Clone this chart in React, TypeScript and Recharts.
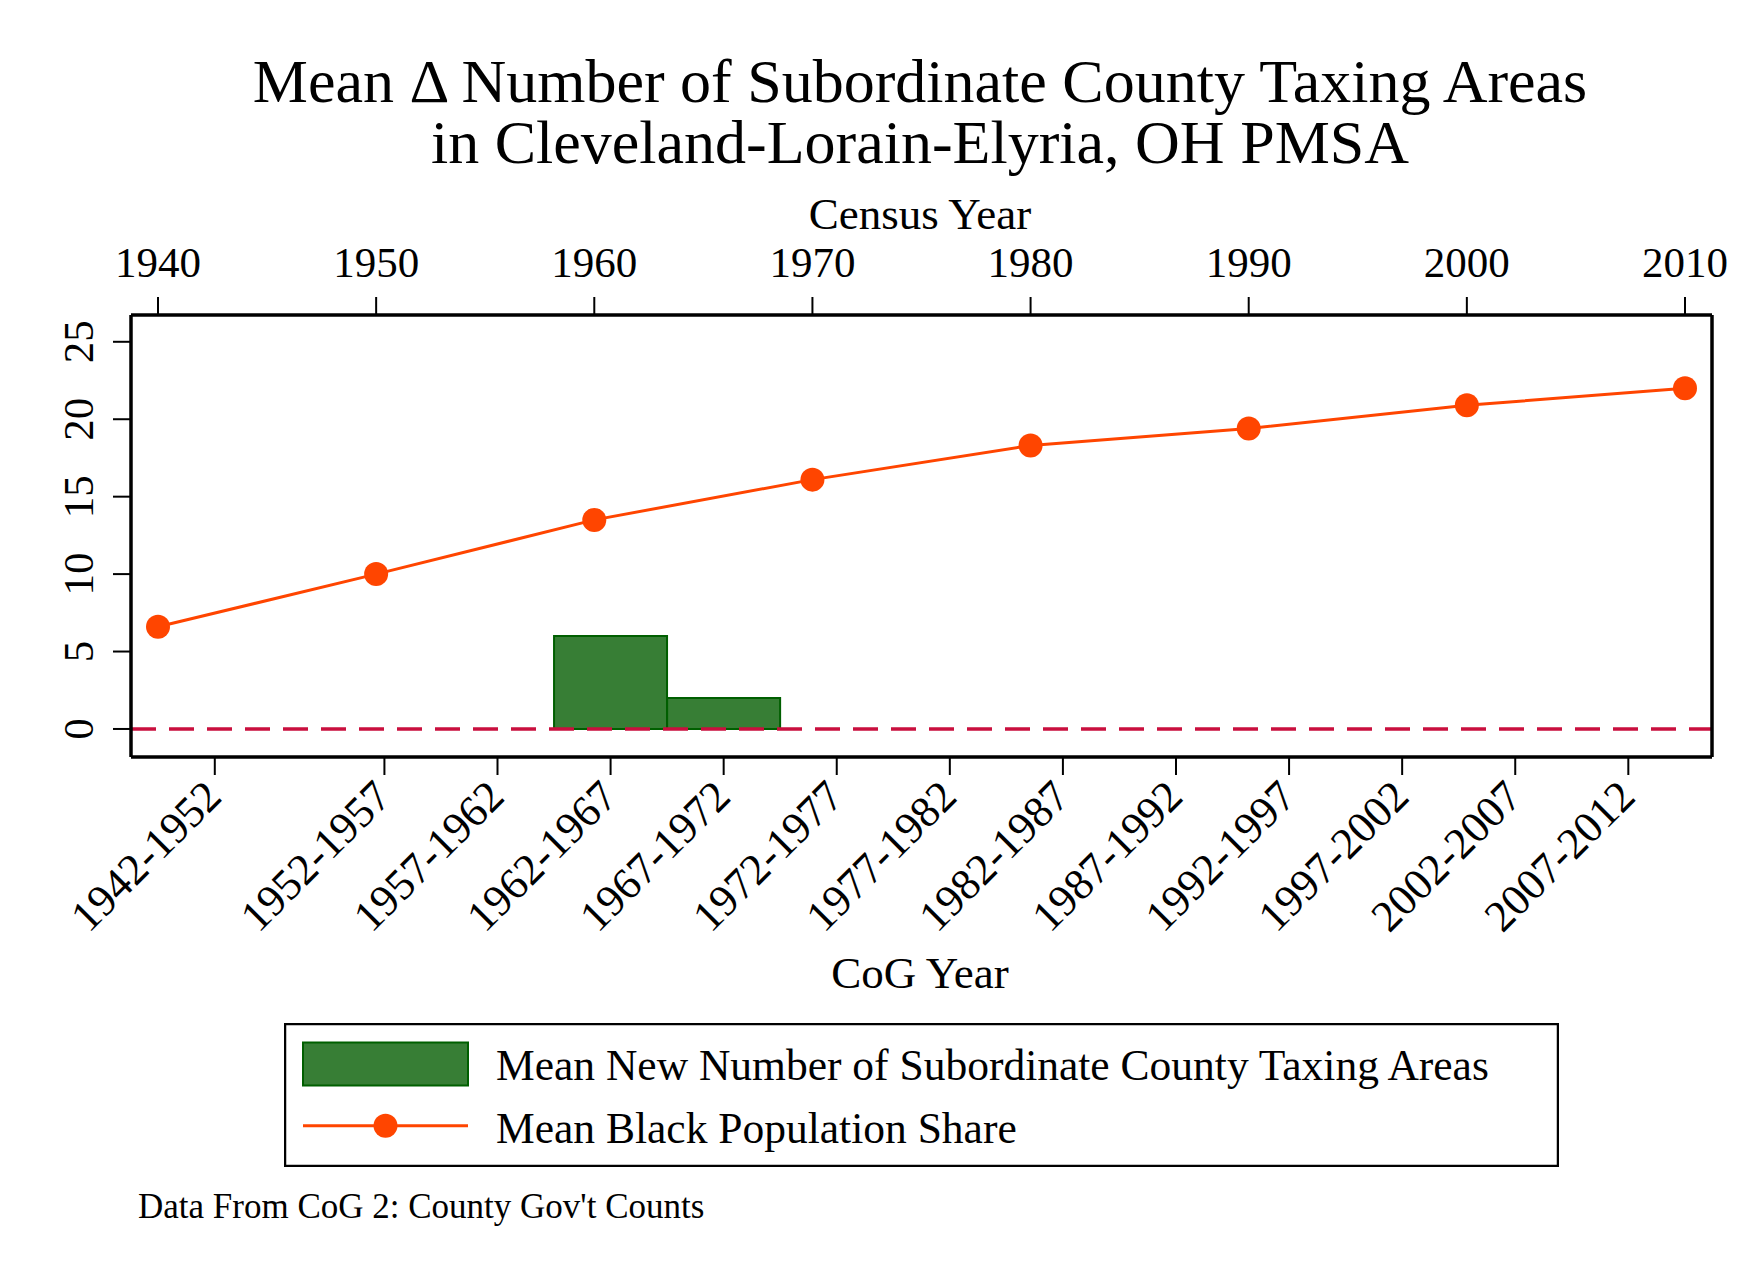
import React from 'react';
import { ComposedChart, Bar, Line, XAxis, YAxis, ReferenceLine, Legend } from 'recharts';

// census years (top axis) and the black population share line
const censusYears = [1940, 1950, 1960, 1970, 1980, 1990, 2000, 2010];
const blackShare = [6.6, 10.0, 13.5, 16.1, 18.3, 19.4, 20.9, 22.0];

// CoG periods (bottom axis) and mean new taxing areas
const cogPeriods = [
  '1942-1952', '1952-1957', '1957-1962', '1962-1967', '1967-1972', '1972-1977', '1977-1982',
  '1982-1987', '1987-1992', '1992-1997', '1997-2002', '2002-2007', '2007-2012',
];
const newTaxingAreas = [0, 0, 0, 6, 2, 0, 0, 0, 0, 0, 0, 0, 0];

const yTicks = [0, 5, 10, 15, 20, 25];

const FONT = '"Liberation Serif", "Times New Roman", serif';
const GREEN = '#377e35';
const GREEN_EDGE = '#005f00';
const ORANGE = '#ff4500';
const CRIMSON = '#c90f3e';

const cogRows = cogPeriods.map((p, i) => {
  const [a, b] = p.split('-').map(Number);
  return { period: p, mid: (a + b) / 2, areas: newTaxingAreas[i] };
});
const cogMids = cogRows.map((r) => r.mid);
const censusRows = censusYears.map((year, i) => ({ year, share: blackShare[i] }));

const TopTick = ({ x, y, payload }: any) => (
  <text x={x} y={y} textAnchor="middle" fontFamily={FONT} fontSize={43} fill="#000">
    {payload.value}
  </text>
);

const BottomTick = ({ x, y, payload }: any) => {
  const row = cogRows.find((r) => Math.abs(r.mid - payload.value) < 0.01);
  const px = x - 2;
  return (
    <text
      x={px}
      y={y}
      dy="0.35em"
      textAnchor="end"
      transform={`rotate(-45 ${px} ${y})`}
      fontFamily={FONT}
      fontSize={44}
      fill="#000"
    >
      {row ? row.period : ''}
    </text>
  );
};

const LeftTick = ({ x, y, payload }: any) => (
  <text
    x={x}
    y={y}
    textAnchor="middle"
    transform={`rotate(-90 ${x} ${y})`}
    fontFamily={FONT}
    fontSize={43}
    fill="#000"
  >
    {payload.value}
  </text>
);

const renderLegend = (props: any) => {
  const payload = [...(props.payload || [])].sort(
    (a: any, b: any) => (a.dataKey === 'areas' ? 0 : 1) - (b.dataKey === 'areas' ? 0 : 1),
  );
  return (
    <svg width={1275} height={144} style={{ display: 'block' }}>
      <rect x={1} y={1} width={1273} height={142} fill="#fff" stroke="#000" strokeWidth={2.5} />
      {payload.map((entry: any, i: number) => {
        const base = i === 0 ? 57 : 120;
        const mid = i === 0 ? 40.5 : 102.7;
        return (
          <g key={String(entry.dataKey)}>
            {entry.dataKey === 'share' ? (
              <g>
                <line x1={19} x2={184} y1={mid} y2={mid} stroke={ORANGE} strokeWidth={3} />
                <circle cx={101.5} cy={mid} r={12} fill={ORANGE} />
              </g>
            ) : (
              <rect x={19} y={19.5} width={165} height={43} fill={GREEN} stroke={GREEN_EDGE} strokeWidth={2} />
            )}
            <text x={212} y={base} fontFamily={FONT} fontSize={43.5} fill="#000">
              {entry.value}
            </text>
          </g>
        );
      })}
    </svg>
  );
};

export default function App() {
  return (
    <div style={{ position: 'absolute', left: 0, top: 0, width: 1758, height: 1278, background: '#fff' }}>
      <ComposedChart
        width={1758}
        height={1278}
        data={cogRows}
        margin={{ top: 255, right: 46, bottom: 321, left: 0 }}
      >
        <XAxis
          xAxisId="census"
          orientation="top"
          type="number"
          dataKey="year"
          domain={[1938.762, 2011.238]}
          allowDataOverflow
          ticks={censusYears}
          height={60}
          tickSize={18}
          tickMargin={20}
          tick={<TopTick />}
          axisLine={{ stroke: '#000', strokeWidth: 3.5 }}
          tickLine={{ stroke: '#000', strokeWidth: 2 }}
        />
        <XAxis
          xAxisId="cog"
          orientation="bottom"
          type="number"
          dataKey="mid"
          domain={[1943.295, 2013.2]}
          allowDataOverflow
          ticks={cogMids}
          interval={0}
          height={200}
          tickSize={18}
          tickMargin={13}
          tick={<BottomTick />}
          axisLine={{ stroke: '#000', strokeWidth: 3.5 }}
          tickLine={{ stroke: '#000', strokeWidth: 2 }}
        />
        <YAxis
          yAxisId="y"
          domain={[-1.81, 26.73]}
          allowDataOverflow
          ticks={yTicks}
          interval={0}
          width={131}
          tickSize={18}
          tickMargin={20}
          tick={<LeftTick />}
          axisLine={{ stroke: '#000', strokeWidth: 3.5 }}
          tickLine={{ stroke: '#000', strokeWidth: 2 }}
        />
        <Bar
          xAxisId="cog"
          yAxisId="y"
          dataKey="areas"
          name="Mean New Number of Subordinate County Taxing Areas"
          fill={GREEN}
          stroke={GREEN_EDGE}
          strokeWidth={2}
          barSize={113}
          isAnimationActive={false}
        />
        <ReferenceLine
          xAxisId="cog"
          yAxisId="y"
          y={0}
          stroke={CRIMSON}
          strokeWidth={3.5}
          strokeDasharray="25 13"
        />
        <ReferenceLine xAxisId="census" yAxisId="y" x={2011.238} stroke="#000" strokeWidth={3.5} />
        <Line
          xAxisId="census"
          yAxisId="y"
          data={censusRows}
          dataKey="share"
          name="Mean Black Population Share"
          stroke={ORANGE}
          strokeWidth={3}
          dot={{ r: 12, fill: ORANGE, stroke: 'none' }}
          isAnimationActive={false}
        />
        <Legend
          layout="horizontal"
          verticalAlign="middle"
          align="center"
          wrapperStyle={{ left: 284, top: 1023, width: 1275, height: 144 }}
          content={renderLegend}
        />
      </ComposedChart>

      <svg
        width={1758}
        height={1278}
        style={{ position: 'absolute', left: 0, top: 0, pointerEvents: 'none' }}
      >
        <text textAnchor="middle" fontFamily={FONT} fontSize={62} fill="#000">
          <tspan x={920} y={102}>Mean Δ Number of Subordinate County Taxing Areas</tspan>
          <tspan x={920} y={163}>in Cleveland-Lorain-Elyria, OH PMSA</tspan>
        </text>
        <text x={920} y={229} textAnchor="middle" fontFamily={FONT} fontSize={45} fill="#000">
          Census Year
        </text>
        <text x={920} y={988} textAnchor="middle" fontFamily={FONT} fontSize={45} fill="#000">
          CoG Year
        </text>
        <text x={138} y={1218} fontFamily={FONT} fontSize={35} fill="#000">
          Data From CoG 2: County Gov't Counts
        </text>
      </svg>
    </div>
  );
}
